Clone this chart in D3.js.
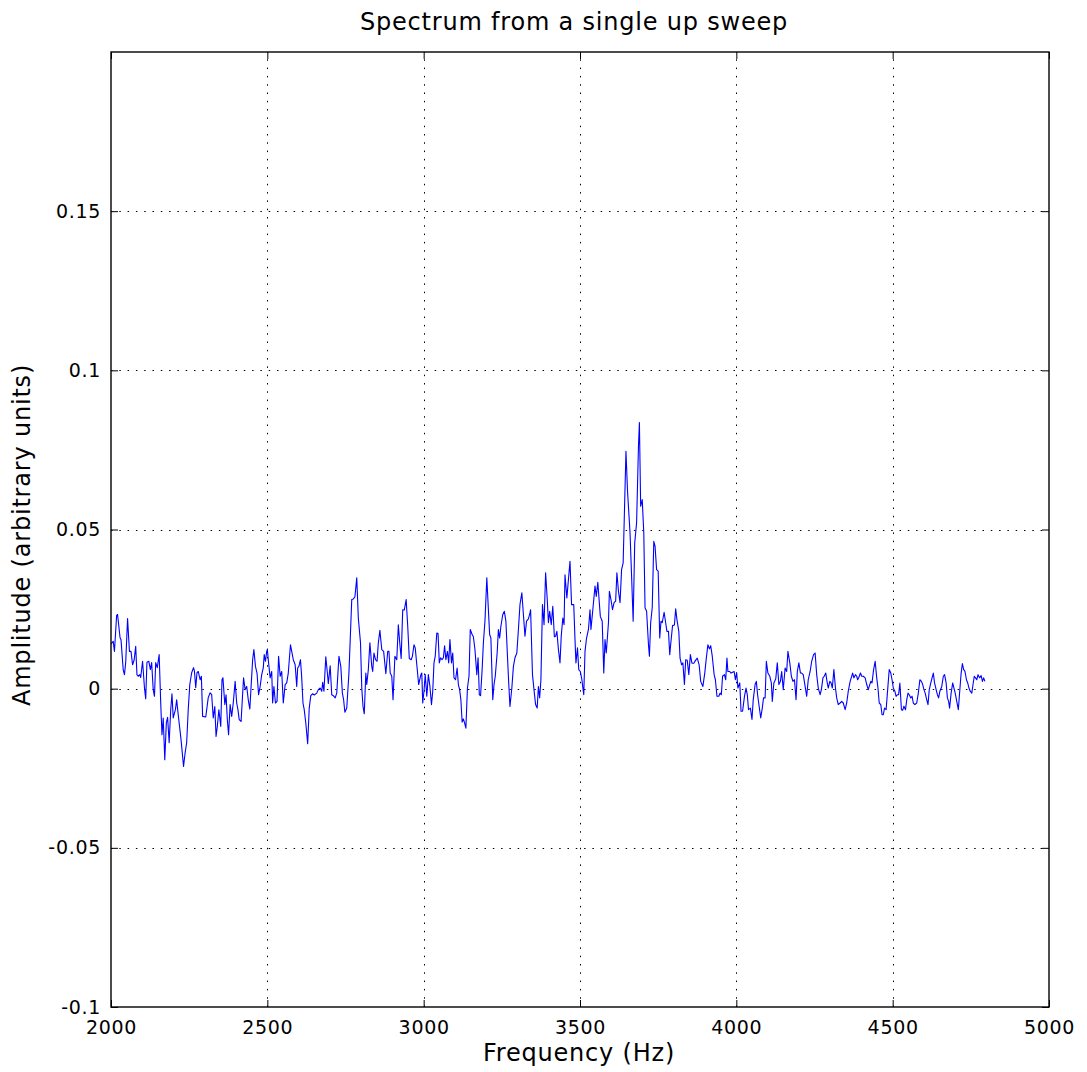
<!DOCTYPE html>
<html>
<head>
<meta charset="utf-8">
<script src="https://cdn.jsdelivr.net/npm/d3@7"></script>
<style>
  html, body { margin: 0; padding: 0; background: #ffffff; }
  svg { display: block; font-family: "DejaVu Sans", sans-serif; }
</style>
</head>
<body>
<svg id="chart" width="1087" height="1072"></svg>
<script>
// ---------- data ----------
const titleText = "Spectrum from a single up sweep";
const xLabelText = "Frequency (Hz)";
const yLabelText = "Amplitude (arbitrary units)";

const xTicks = [2000, 2500, 3000, 3500, 4000, 4500, 5000];
const xTickLabels = ["2000", "2500", "3000", "3500", "4000", "4500", "5000"];
const yTicks = [-0.1, -0.05, 0, 0.05, 0.1, 0.15];
const yTickLabels = ["-0.1", "-0.05", "0", "0.05", "0.1", "0.15"];
const xDomain = [2000, 5000];
const yDomain = [-0.1, 0.2];

const frequency = [
2000,2007,2011,2018,2021,2029,2032,2039,2043,2047,2053,2059,2064,2069,2074,2079,2083,2087,2092,2095,
2101,2107,2111,2115,2121,2126,2130,2135,2139,2143,2148,2154,2159,2163,2167,2172,2177,2181,2186,2191,
2195,2199,2206,2210,2215,2224,2232,2237,2242,2247,2252,2258,2264,2267,2271,2275,2279,2285,2289,2293,
2303,2311,2317,2322,2327,2332,2336,2340,2345,2351,2355,2358,2364,2368,2372,2376,2381,2386,2391,2397,
2402,2406,2410,2416,2424,2429,2434,2439,2444,2449,2453,2457,2462,2467,2472,2477,2482,2487,2490,2494,
2498,2500,2504,2509,2514,2517,2521,2526,2531,2536,2541,2546,2551,2557,2562,2567,2574,2578,2583,2589,
2594,2597,2601,2606,2610,2614,2618,2623,2629,2634,2639,2645,2650,2658,2663,2669,2674,2677,2681,2687,
2692,2695,2701,2706,2711,2717,2722,2729,2735,2740,2744,2748,2754,2761,2770,2775,2780,2786,2791,2798,
2802,2806,2810,2815,2818,2823,2828,2834,2837,2841,2846,2851,2855,2860,2866,2872,2879,2885,2889,2893,
2898,2902,2908,2914,2919,2923,2928,2933,2938,2944,2949,2954,2960,2964,2969,2973,2979,2984,2991,2994,
2997,3001,3005,3010,3015,3020,3025,3029,3033,3037,3042,3046,3050,3054,3059,3063,3067,3071,3076,3080,
3084,3089,3093,3097,3102,3107,3111,3115,3119,3123,3127,3131,3135,3140,3145,3149,3155,3159,3164,3170,
3174,3178,3182,3187,3191,3196,3202,3207,3211,3215,3221,3225,3229,3235,3239,3243,3247,3253,3258,3263,
3268,3272,3276,3282,3287,3292,3298,3303,3308,3314,3319,3324,3329,3335,3340,3342,3348,3354,3358,3363,
3367,3371,3375,3380,3385,3390,3395,3399,3403,3408,3413,3418,3422,3426,3431,3436,3440,3445,3449,3452,
3458,3463,3468,3473,3480,3484,3487,3492,3496,3501,3506,3512,3516,3521,3527,3532,3535,3541,3548,3552,
3557,3561,3565,3571,3576,3580,3584,3591,3594,3599,3604,3609,3614,3618,3623,3628,3633,3638,3647,3652,
3660,3665,3670,3675,3681,3687,3690,3694,3699,3704,3708,3713,3719,3722,3726,3731,3736,3740,3745,3750,
3755,3759,3763,3769,3774,3778,3783,3787,3791,3796,3802,3806,3810,3816,3820,3825,3829,3834,3838,3843,
3848,3853,3858,3864,3869,3875,3881,3886,3893,3899,3904,3909,3914,3918,3923,3929,3933,3938,3944,3948,
3952,3956,3962,3966,3970,3973,3979,3983,3993,3997,4001,4005,4011,4015,4020,4026,4031,4035,4039,4045,
4050,4054,4060,4064,4068,4073,4078,4083,4087,4092,4096,4101,4107,4112,4115,4120,4126,4131,4136,4141,
4145,4150,4156,4161,4165,4171,4176,4181,4186,4191,4195,4200,4205,4209,4214,4220,4225,4230,4236,4241,
4247,4252,4257,4262,4268,4272,4277,4281,4286,4290,4294,4299,4303,4307,4312,4317,4321,4326,4332,4337,
4342,4348,4353,4358,4364,4369,4372,4376,4381,4385,4388,4392,4397,4401,4406,4412,4417,4422,4425,4430,
4434,4439,4444,4449,4453,4457,4462,4466,4470,4474,4479,4484,4489,4494,4498,4502,4507,4511,4515,4519,
4523,4528,4532,4536,4541,4545,4549,4553,4558,4562,4566,4571,4577,4582,4587,4592,4596,4600,4604,4609,
4613,4617,4622,4626,4630,4634,4639,4643,4647,4651,4657,4662,4666,4671,4675,4679,4682,4687,4692,4696,
4700,4705,4710,4714,4719,4723,4727,4731,4736,4740,4744,4748,4753,4757,4761,4765,4769,4773,4778,4783,
4787,4791,4795
];

const amplitude = [
0.014,0.0149,0.0117,0.023,0.0233,0.016,0.0154,0.006,0.0044,0.0082,0.022,0.0117,0.0117,0.0075,0.009,0.0133,0.0044,0.0039,0.0044,0.0035,
0.0086,0.0003,-0.0032,0.0083,0.0086,0.006,0.0082,-0.0003,-0.0024,0.0082,0.0066,0.0107,-0.0044,-0.0145,-0.0092,-0.0223,-0.0107,-0.009,-0.017,-0.0066,
-0.0016,-0.0092,-0.0066,-0.0035,-0.0082,-0.016,-0.0244,-0.0202,-0.017,-0.0066,0.0013,0.005,0.0066,0.0054,0.0003,0.005,0.0054,0.0028,0.0039,-0.0087,
-0.0089,-0.0028,-0.0013,-0.0019,-0.0092,-0.0056,-0.015,-0.0119,-0.0066,-0.0119,0.0028,0.0034,-0.005,-0.0019,-0.0097,-0.0145,-0.005,-0.0087,-0.0045,0.0023,
-0.0045,-0.0066,-0.0097,-0.0103,0.0034,-0.0003,0.0007,-0.0035,-0.0064,0.0023,0.0091,0.0123,0.007,0.0049,-0.0019,0.0007,0.0044,0.0065,0.0107,0.0086,
0.0117,0.0123,0.0081,0.0034,0.0054,-0.0045,0.0007,-0.0045,-0.004,0.0102,0.0039,0.0054,-0.0045,0.0013,0.0018,0.0049,0.0138,0.0117,0.0091,0.0075,
0.0007,0.0065,0.007,0.0091,0.0034,-0.0045,-0.0066,-0.0108,-0.0173,-0.0061,-0.0022,-0.0016,-0.002,-0.0014,-0.0003,0.0002,-0.0008,0.002,-0.0008,0.01,
0.0049,0.0016,0.0072,-0.0019,-0.0022,-0.0029,-0.0014,0.0102,0.007,-0.0014,-0.0035,-0.0074,-0.0061,0.0049,0.028,0.0282,0.0288,0.0348,0.0222,0.0144,
0.0002,-0.0056,-0.0079,0.0049,0.0013,0.006,0.0144,0.007,0.0054,0.0112,0.0091,0.0086,0.0144,0.0183,0.0123,0.0117,0.0047,0.0117,0.0117,0.0049,
0.0039,-0.0035,0.0102,0.0091,0.0201,0.0149,0.0095,0.0248,0.0247,0.028,0.0196,0.0095,0.0091,0.0102,0.0138,0.0128,0.0065,0.0013,0.0044,0.0049,
-0.0045,-0.0008,0.0044,-0.0024,0.0044,0.0007,-0.005,-0.0008,0.0081,0.0102,0.0175,0.0173,0.0081,0.0097,0.0091,0.0097,0.0135,0.0091,0.0117,0.0081,
0.0154,0.0081,0.0112,0.0034,0.0028,0.0065,0.0013,-0.0003,-0.0035,-0.0105,-0.0095,-0.0108,-0.0124,0.0002,0.0039,0.0186,0.017,0.0163,0.0123,0.0044,
0.0097,-0.0019,-0.0022,0.006,0.0144,0.0212,0.0348,0.0248,0.017,0.0159,-0.0035,0.0013,0.0039,0.0112,0.0186,0.0159,0.0196,0.0233,0.0243,0.0212,
0.0102,0.0018,-0.0056,0.0002,0.007,0.0097,0.0112,0.0186,0.0264,0.0301,0.0233,0.0165,0.0212,0.0219,0.0238,0.0248,0.0044,-0.0014,-0.005,-0.0061,
0.0007,-0.0029,0.0028,0.0264,0.0201,0.0364,0.0285,0.0207,0.0243,0.0201,0.0259,0.0163,0.0165,0.018,0.0123,0.0081,0.0165,0.0222,0.0201,0.0358,
0.0285,0.0343,0.04,0.0264,0.0264,0.0154,0.0081,0.0128,0.006,0.0054,0.0028,-0.0019,0.0117,0.0159,0.0186,0.0248,0.0186,0.0248,0.0322,0.029,
0.0334,0.028,0.0227,0.0212,0.0049,0.0154,0.0112,0.0207,0.0306,0.028,0.0248,0.027,0.0275,0.0364,0.0306,0.027,0.0374,0.0395,0.0746,0.062,
0.049,0.0353,0.0212,0.0458,0.0521,0.0762,0.0836,0.0573,0.0594,0.049,0.0254,0.0243,0.0138,0.0102,0.0207,0.0254,0.0463,0.0448,0.0374,0.0369,
0.0159,0.0212,0.0207,0.024,0.0207,0.018,0.018,0.0107,0.0149,0.0198,0.02,0.0251,0.0217,0.018,0.0096,0.0075,0.0081,0.0013,0.0091,0.0089,
0.0044,0.0107,0.008,0.008,0.0088,0.0096,0.0075,0.0023,0.0007,0.0049,0.0096,0.0138,0.0125,0.0135,0.0102,0.0044,0.0028,-0.0024,-0.0024,-0.0014,
-0.0019,0.0039,0.0044,0.0028,0.0096,0.0054,0.0054,0.0049,0.0054,0.0028,0.0051,0.0002,0.0018,-0.0071,-0.0071,-0.0024,0.0002,-0.0019,-0.0066,-0.0061,
-0.0097,-0.0035,0.0013,0.0023,-0.0019,-0.0056,-0.0092,-0.0061,-0.0029,-0.0029,0.0086,0.0049,0.0039,0.0018,-0.004,0.0018,0.003,0.0081,0.0013,0.0023,
0.0054,-0.0003,0.0065,0.0054,0.0117,0.0081,0.0039,0.0023,0.0028,-0.0035,0.0054,0.0081,0.0049,0.0049,0.0044,0.0007,-0.0024,0.0028,0.0054,0.0086,
0.0107,0.0112,0.0044,0.0002,-0.0019,-0.0003,0.0034,0.0039,0.0049,0.0023,0.0002,0.0023,0.0018,0.0002,0.006,0.0002,-0.0029,-0.005,-0.0045,-0.004,
-0.0045,-0.0066,-0.0045,-0.0008,0.0023,0.0039,0.0049,0.0034,0.0044,0.0039,0.0028,0.0036,0.0049,0.0039,0.0039,0.0034,0.0013,-0.0003,0.0007,0.0023,
0.0018,0.006,0.0086,0.0034,0.0002,-0.0045,-0.005,-0.0082,-0.0082,-0.0061,-0.0066,-0.0003,0.006,0.0049,0.0028,0.0002,-0.0008,-0.0024,-0.0019,-0.0019,
0.0018,-0.0066,-0.0068,-0.0055,-0.0066,-0.0035,-0.0014,-0.0019,-0.0029,-0.0024,-0.0045,-0.005,-0.0045,-0.0014,0.0028,0.0023,0.0013,-0.0003,-0.0014,-0.0035,
-0.005,-0.0003,0.0018,0.0034,0.0049,0.0018,-0.0003,-0.0019,-0.0029,-0.0008,0.0007,0.0039,0.0044,0.0018,-0.0029,-0.004,-0.0061,-0.0014,0.0018,0.0002,
-0.0014,-0.004,-0.0066,-0.0014,0.0049,0.0079,0.006,0.0055,0.0028,0.0018,0.0002,-0.0008,-0.0014,0.0013,0.0039,0.0034,0.0028,0.0044,0.0034,0.0041,
0.0023,0.0034,0.0023
];

// ---------- layout ----------
const W = 1087, H = 1072;
const margin = { left: 111, top: 52, right: 1087 - 1049, bottom: 1072 - 1007 };
const pw = W - margin.left - margin.right;
const ph = H - margin.top - margin.bottom;

const svg = d3.select("#chart");
svg.append("rect").attr("width", W).attr("height", H).attr("fill", "#ffffff");

const x = d3.scaleLinear().domain(xDomain).range([0, pw]);
const y = d3.scaleLinear().domain(yDomain).range([ph, 0]);

const g = svg.append("g").attr("transform", `translate(${margin.left},${margin.top})`);

// grid
const grid = g.append("g").attr("class", "grid");
grid.selectAll("line.gx").data(xTicks.filter(v => v > xDomain[0] && v < xDomain[1]))
  .join("line").attr("class", "gx")
  .attr("x1", d => Math.round(x(d)) + 0.5).attr("x2", d => Math.round(x(d)) + 0.5)
  .attr("y1", ph).attr("y2", 0)
  .attr("stroke", "#000").attr("stroke-width", 1).attr("stroke-dasharray", "1.5,6.8");
grid.selectAll("line.gy").data(yTicks.filter(v => v > yDomain[0] && v < yDomain[1]))
  .join("line").attr("class", "gy")
  .attr("x1", 0).attr("x2", pw)
  .attr("y1", d => Math.round(y(d)) + 0.5).attr("y2", d => Math.round(y(d)) + 0.5)
  .attr("stroke", "#000").attr("stroke-width", 1).attr("stroke-dasharray", "1.5,6.8");

// data line
const clip = svg.append("defs").append("clipPath").attr("id", "clip")
  .append("rect").attr("width", pw).attr("height", ph);
const pts = frequency.map((f, i) => [f, amplitude[i]]);
g.append("path")
  .attr("clip-path", "url(#clip)")
  .attr("d", d3.line().x(d => x(d[0])).y(d => y(d[1]))(pts))
  .attr("fill", "none").attr("stroke", "#0000ff").attr("stroke-width", 1.1)
  .attr("stroke-linejoin", "round");

// axes (inward ticks)
const tickLen = 7;
const fontTick = "19px";
const xAxis = d3.axisBottom(x).tickValues(xTicks)
  .tickFormat((d, i) => xTickLabels[i]).tickSizeInner(-tickLen).tickSizeOuter(0).tickPadding(tickLen + 7);
const yAxis = d3.axisLeft(y).tickValues(yTicks)
  .tickFormat((d, i) => yTickLabels[i]).tickSizeInner(-tickLen).tickSizeOuter(0).tickPadding(tickLen + 3);
const xAxisTop = d3.axisTop(x).tickValues(xTicks).tickFormat("").tickSizeInner(-tickLen).tickSizeOuter(0);
const yAxisRight = d3.axisRight(y).tickValues(yTicks).tickFormat("").tickSizeInner(-tickLen).tickSizeOuter(0);

function styleAxis(sel) {
  sel.select(".domain").remove();
  sel.selectAll(".tick line").attr("stroke", "#000").attr("stroke-width", 1);
  sel.selectAll(".tick text").attr("fill", "#000").style("font-size", fontTick)
    .style("letter-spacing", "0.7px")
    .style("font-family", '"DejaVu Sans", sans-serif');
}
g.append("g").attr("transform", `translate(0,${ph})`).call(xAxis).call(styleAxis);
g.append("g").call(yAxis).call(styleAxis);
g.append("g").call(xAxisTop).call(styleAxis);
g.append("g").attr("transform", `translate(${pw},0)`).call(yAxisRight).call(styleAxis);

// frame
g.append("rect").attr("x", 0).attr("y", 0).attr("width", pw).attr("height", ph)
  .attr("fill", "none").attr("stroke", "#000").attr("stroke-width", 1.4);

// title and labels
const labelStyle = sel => sel.attr("text-anchor", "middle").style("font-size", "24px")
  .style("letter-spacing", "0.8px").attr("fill", "#000");
svg.append("text").attr("x", 574).attr("y", 30).call(labelStyle).text(titleText);
svg.append("text").attr("x", 579).attr("y", 1061).call(labelStyle).text(xLabelText);
svg.append("text").attr("transform", `translate(30,535) rotate(-90)`).call(labelStyle).text(yLabelText);
</script>
</body>
</html>
